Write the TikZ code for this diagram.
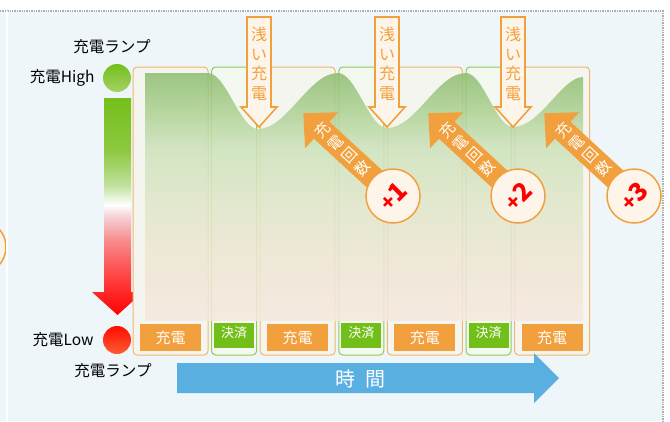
\documentclass[tikz,border=0pt]{standalone}
\usepackage{fontspec}
\setmainfont{Noto Sans CJK JP}
\usetikzlibrary{positioning}

\definecolor{panel}{HTML}{EEF6F9}
\definecolor{dotgray}{HTML}{ADADAD}
\definecolor{orng}{HTML}{F2A03D}
\definecolor{boxorng}{HTML}{F4B46C}
\definecolor{boxgrn}{HTML}{8FCB55}
\definecolor{grn}{HTML}{72BF1A}
\definecolor{chgfill}{HTML}{F5F5EF}
\definecolor{payfill}{HTML}{F3F9F0}
\definecolor{cream}{HTML}{FEF5EA}
\definecolor{timeblue}{HTML}{5AAFE1}
% wave colours, bottom to top
\definecolor{wv0}{HTML}{F6E9DE}
\definecolor{wv1}{HTML}{EDE6D3}
\definecolor{wv2}{HTML}{E0E6C9}
\definecolor{wv3}{HTML}{CDE2BB}
\definecolor{wv4}{HTML}{AED194}
\definecolor{wv5}{HTML}{8EBD70}
% lamp bar colours, bottom to top
\definecolor{lp0}{HTML}{FF0000}
\definecolor{lp1}{HTML}{FF4444}
\definecolor{lp2}{HTML}{F78A8A}
\definecolor{lp3}{HTML}{F5D5D8}
\definecolor{lp4}{HTML}{BFE09B}
\definecolor{lp5}{HTML}{8DC83F}
\definecolor{lp6}{HTML}{74BF1C}

\pgfdeclareverticalshading{wave}{100bp}{color(0bp)=(wv0); color(25bp)=(wv0); color(39bp)=(wv1); color(49bp)=(wv2); color(60bp)=(wv3); color(67bp)=(wv4); color(75bp)=(wv5); color(100bp)=(wv5)}
\pgfdeclareverticalshading{lampbar}{100bp}{color(0bp)=(lp0); color(25bp)=(lp0); color(34bp)=(lp1); color(42bp)=(lp2); color(48bp)=(lp3); color(50.3bp)=(white); color(55bp)=(lp4); color(63bp)=(lp5); color(75bp)=(lp6); color(100bp)=(lp6)}

\begin{document}
\begin{tikzpicture}[x=1pt,y=-1pt,
  node distance=3.6pt,
  chgbox/.style={draw=boxorng,fill=chgfill,line width=1pt,rounded corners=4pt,minimum width=75pt,minimum height=288pt,inner sep=0pt,outer sep=0pt},
  paybox/.style={chgbox,draw=boxgrn,fill=payfill,minimum width=45pt},
  chglabel/.style={fill=orng,text=white,minimum width=61pt,minimum height=27pt,inner sep=0pt,font=\fontsize{15}{15}\selectfont},
  paylabel/.style={fill=grn,text=white,minimum width=40pt,minimum height=25pt,inner sep=0pt,text height=10pt,text depth=6pt,font=\fontsize{13}{13}\selectfont},
  lamptext/.style={inner sep=0pt,font=\fontsize{15.5}{16}\selectfont},
  lamp/.style={circle,minimum size=28pt,inner sep=0pt},
  shallow/.style={draw=orng,fill=cream,line width=1.6pt,line join=miter},
  shallowtext/.style={text=orng,align=center,inner sep=0pt,font=\fontsize{16}{19.5}\selectfont},
  cnttext/.style={text=white,align=center,inner sep=0pt,font=\fontsize{15}{18.4}\selectfont},
  cntcircle/.style={circle,draw=orng,fill=cream,line width=1.5pt,minimum size=54pt,inner sep=0pt}
]
\useasboundingbox (0,0) rectangle (670,421);
\fill[white] (0,0) rectangle (670,421);
\fill[panel] (0,11) rectangle (663,421);
\draw[dotgray,line width=2pt,dash pattern=on 1.4pt off 1pt] (0,11) -- (663,11) -- (663,421);
\draw[orng,fill=cream,line width=1.5pt] (-21,247) circle (27);
\fill[white] (6,11) rectangle (8,421);

% charge lamp
\node[lamp,top color=lp6,bottom color=lp5!80!white] (lampH) at (117,78) {};
\node[lamp,top color=red!90!orange,bottom color=red!60!orange!80!white] (lampL) at (117,340) {};
\shade[shading=lampbar] (104,98) -- (131,98) -- (131,292) -- (143,292) -- (117.5,315) -- (92,292) -- (104,292) -- cycle;
\node[lamptext,left=8pt of lampH] (hightxt) {充電High};
\node[lamptext,above=10pt of lampH,xshift=-5pt] (lamptop) {充電ランプ};
\node[lamptext,left=9pt of lampL] (lowtxt) {充電Low};
\node[lamptext,below=9pt of lampL,xshift=-4pt] (lampbot) {充電ランプ};

% charge / payment columns
\node[chgbox] (c1) at (170.5,211) {};
\node[paybox,right=of c1] (p1) {};
\node[chgbox,right=of p1] (c2) {};
\node[paybox,right=of c2] (p2) {};
\node[chgbox,right=of p2] (c3) {};
\node[paybox,right=of c3] (p3) {};
\node[chgbox,right=of p3] (c4) {};

% battery level
\shade[shading=wave,opacity=.86] (145,321) -- (145,73) -- (208,73)
  .. controls (226,73) and (240,129) .. (258,129)
  .. controls (287,129) and (309,73) .. (338,73)
  .. controls (356,73) and (369,128) .. (387,128)
  .. controls (416,128) and (437,73) .. (466,73)
  .. controls (483,73) and (496,127) .. (513,127)
  .. controls (540,127) and (562,77) .. (583,77)
  -- (583,321) -- cycle;

\node[chglabel,above=4pt of c1.south] (lc1) {充電};
\node[paylabel,above=7pt of p1.south] (lp1) {決済};
\node[chglabel,above=4pt of c2.south] (lc2) {充電};
\node[paylabel,above=7pt of p2.south] (lp2) {決済};
\node[chglabel,above=4pt of c3.south] (lc3) {充電};
\node[paylabel,above=7pt of p3.south] (lp3) {決済};
\node[chglabel,above=4pt of c4.south] (lc4) {充電};

% shallow charges
\foreach \cx/\n in {259/1,387/2,513/3}{
  \draw[shallow] (\cx-12,17) -- (\cx+12,17) -- (\cx+12,107) -- (\cx+18,107) -- (\cx,127) -- (\cx-18,107) -- (\cx-12,107) -- cycle;
  \node[shallowtext] (shallow\n) at (\cx,64) {浅\\い\\充\\電};
}

% charge count
\foreach \cx/\n in {393/1,518/2,634/3}{
  \begin{scope}[shift={(\cx,196)},rotate=137.3]
    \fill[orng] (0,-11.5) -- (97,-11.5) -- (97,-24.5) -- (122,0) -- (97,24.5) -- (97,11.5) -- (0,11.5) -- cycle;
    \node[cnttext,rotate=47.3] (count\n) at (69,0) {充\\電\\回\\数};
  \end{scope}
  \node[cntcircle] (times\n) at (\cx,196) {};
  \node[text=red,rotate=45,inner sep=0pt] (num\n) at (times\n) {{\fontsize{21}{21}\selectfont\bfseries +}{\fontsize{25}{25}\selectfont\bfseries \n}};
}

% time axis
\fill[timeblue] (177,363) -- (534,363) -- (534,353) -- (559,378) -- (534,403) -- (534,393) -- (177,393) -- cycle;
\node[text=white,font=\fontsize{20}{20}\selectfont] (time) at (360,379) {時\hspace{.5em}間};
\end{tikzpicture}
\end{document}
